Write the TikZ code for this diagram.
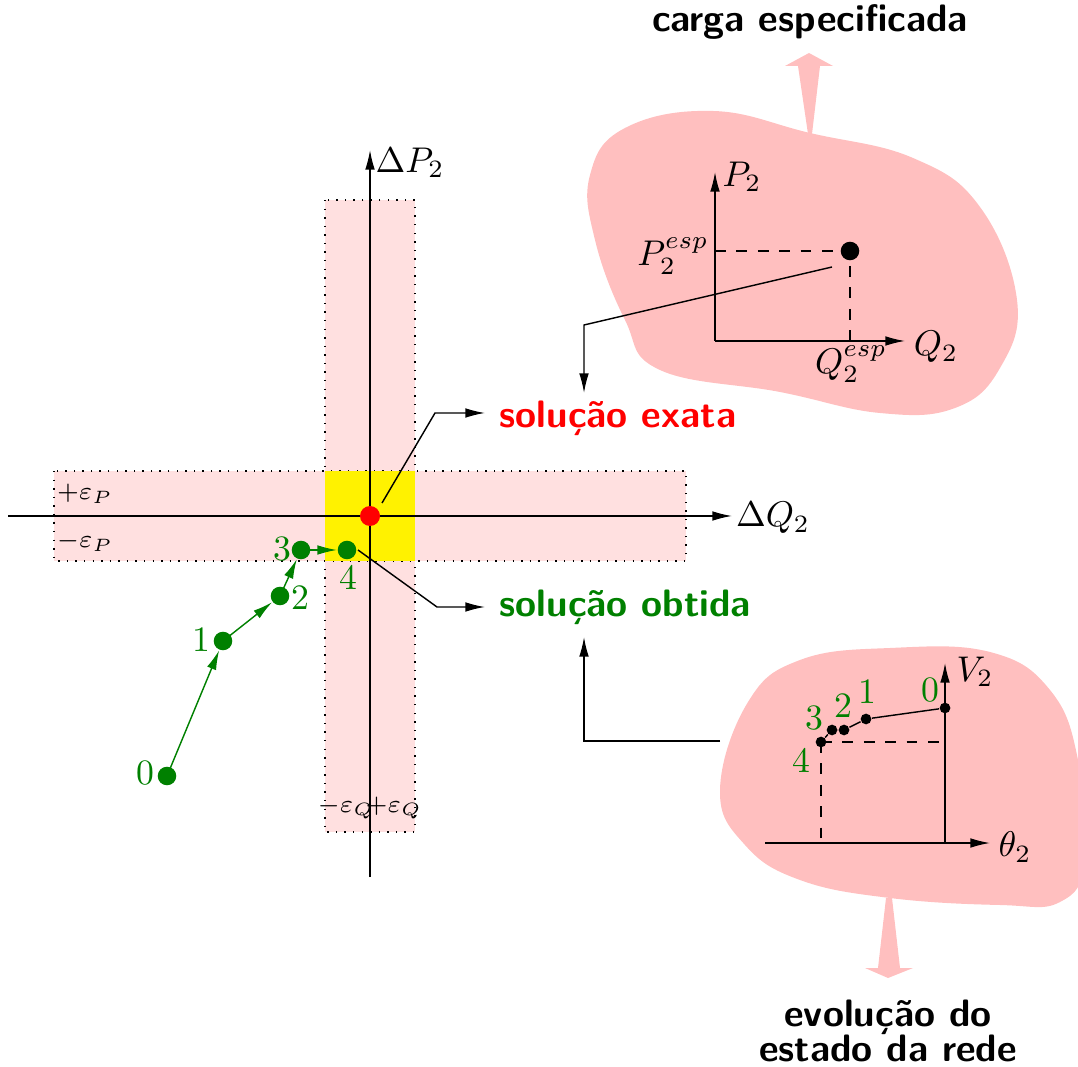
\documentclass[tikz,border=0pt]{standalone}
\usepackage{amsmath}
\usepackage{tikz}
\usetikzlibrary{calc,arrows.meta}

\tikzset{
  gdot/.style={circle, fill=green!50!black, inner sep=0pt, minimum size=5.2pt},
  rdot/.style={circle, fill=red, inner sep=0pt, minimum size=5.6pt},
  bdot/.style={circle, fill=black, inner sep=0pt, minimum size=5.2pt},
  sdot/.style={circle, fill=black, inner sep=0pt, minimum size=3pt},
  glabel/.style={text=green!50!black, inner sep=0pt},
  tol/.style={dotted, fill=red!12},
  eps/.style={inner sep=0pt, font=\scriptsize},
  blob/.style={fill=red!25, draw=none},
  caption/.style={font=\sffamily\bfseries\fontsize{10.7}{9.8}\selectfont, inner sep=0pt}
}

\begin{document}
\begin{tikzpicture}[x=0.28pt, y=-0.28pt, >={Latex[length=5.5pt,width=2.7pt]}]

\useasboundingbox (0,0) rectangle (1078,1067);

% Tolerance bands
\draw[tol] (325,200) rectangle (415,832);
\draw[tol] (54,471) rectangle (686,561);
\fill[yellow] (325,471) rectangle (415,561);

\node[eps] (epp) at (85,494) {$+\varepsilon_P$};
\node[eps] (epm) at (85,542) {$-\varepsilon_P$};
\node[eps] (eqm) at (346,808) {$-\varepsilon_Q$};
\node[eps] (eqp) at (394,808) {$+\varepsilon_Q$};

% Mismatch axes
\coordinate (qa) at (8,516);
\coordinate (qb) at (732,516);
\coordinate (pa) at (370,877);
\coordinate (pb) at (370,150);
\draw[->] (qa) -- (qb);
\draw[->] (pa) -- (pb);
\node (lq) at (773,518) {$\Delta Q_2$};
\node (lp) at (410,163) {$\Delta P_2$};

% Iterations
\node[gdot] (g0) at (167,776) {};
\node[gdot] (g1) at (223,641) {};
\node[gdot] (g2) at (280,596) {};
\node[gdot] (g3) at (301,550) {};
\node[gdot] (g4) at (347,550) {};
\draw[->, green!50!black] (g0.center) -- (g1);
\draw[->, green!50!black] (g1.center) -- (g2);
\draw[->, green!50!black] (g2.center) -- (g3);
\draw[->, green!50!black] (g3.center) -- (g4);
\node[glabel] (n0) at (145,773) {0};
\node[glabel] (n1) at (201,640) {1};
\node[glabel] (n2) at (300,598) {2};
\node[glabel] (n3) at (282,549) {3};
\node[glabel] (n4) at (348,577) {4};

\node[rdot] (ex) at (370,516) {};

% Leaders to the captions
\node[caption, text=red, anchor=west] (exata) at (499,418) {solução exata};
\node[caption, text=green!50!black, anchor=west] (obtida) at (499,607) {solução obtida};
\coordinate (e1) at (382,503);
\coordinate (e2) at (435,413);
\coordinate (o1) at (358,550);
\coordinate (o2) at (437,607);
\draw[->] (e1) -- (e2) -- ($(e2 -| exata.west)+(-14,0)$);
\draw[->] (o1) -- (o2) -- ($(o2 -| obtida.west)+(-14,0)$);

% Specified load (upper blob)
\fill[blob] plot[smooth cycle, tension=0.7] coordinates {
  (590,175) (625,128) (713,111) (810,133) (913,158) (980,207) (1017,300)
  (1000,368) (955,408) (880,413) (780,392) (660,370) (625,320) (595,240)};
\fill[blob] (808,134) -- (798,66) -- (785,66) -- (809,53) -- (833,66) -- (820,66) -- (812,134) -- cycle;
\node[caption] (carga) at (810,22) {carga especificada};

\coordinate (uo) at (715,341);
\coordinate (up) at (715,172);
\coordinate (uq) at (905,341);
\node[bdot] (esp) at (850,251) {};
\draw[->] (uo) -- (up);
\draw[->] (uo) -- (uq);
\draw[dashed] (esp.center -| uo) -- (esp.center) -- (esp.center |- uo);
\node (lp2) at (742,177) {$P_2$};
\node (lq2) at (936,347) {$Q_2$};
\node (pesp) at (673,256) {$P_2^{esp}$};
\node (qesp) at (851,364) {$Q_2^{esp}$};

\coordinate (b1) at (832,267);
\coordinate (b2) at (584,325);
\coordinate (b3) at (584,393);
\draw[->] (b1) -- (b2) -- (b3);

% State evolution (lower blob)
\fill[blob] plot[smooth cycle, tension=0.7] coordinates {
  (720,790) (748,702) (800,660) (890,648) (990,652) (1050,690) (1078,760)
  (1085,860) (1060,902) (1000,905) (890,898) (800,880) (745,845)};
\fill[blob] (886,898) -- (878,968) -- (865,968) -- (888,978) -- (913,968) -- (900,968) -- (892,898) -- cycle;
\node[caption, align=center] (evol) at (888,1031) {evolução do\\estado da rede};

\coordinate (ta) at (765,843);
\coordinate (tb) at (990,843);
\coordinate (to) at (945,843);
\coordinate (vb) at (945,663);
\draw[->] (ta) -- (tb);
\draw[->] (to) -- (vb);
\node (lt) at (1015,847) {$\theta_2$};
\node (lv) at (975,672) {$V_2$};

\node[sdot] (v0) at (945,708) {};
\node[sdot] (v1) at (866,719) {};
\node[sdot] (v2) at (844,730) {};
\node[sdot] (v3) at (832,730) {};
\node[sdot] (v4) at (821,742) {};
\draw (v0) -- (v1) -- (v2) -- (v3) -- (v4);
\draw[dashed] (v4.center) -- ($(v4.center -| to)+(-5,0)$);
\draw[dashed] (v4.center) -- (v4.center |- ta);
\node[glabel] (m0) at (930,690) {0};
\node[glabel] (m1) at (867,692) {1};
\node[glabel] (m2) at (843,706) {2};
\node[glabel] (m3) at (814,718) {3};
\node[glabel] (m4) at (801,760) {4};

\coordinate (c1) at (720,741);
\coordinate (c2) at (584,741);
\coordinate (c3) at (584,637);
\draw[->] (c1) -- (c2) -- (c3);

\end{tikzpicture}
\end{document}
